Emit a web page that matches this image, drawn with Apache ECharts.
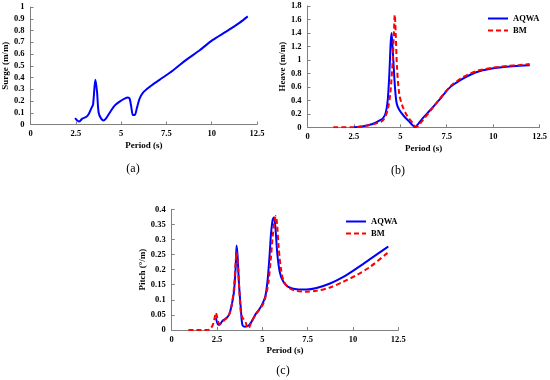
<!DOCTYPE html>
<html><head><meta charset="utf-8">
<script src="https://cdn.jsdelivr.net/npm/echarts@6/dist/echarts.min.js"></script>
<style>html,body{margin:0;padding:0;background:#fff}#c{width:550px;height:380px}</style>
</head><body><div id="c"></div>
<script>
// Surge (a)
var surgeX = [2.46,2.68,2.86,3.05,3.18,3.36,3.45,3.58,3.67,3.76,3.9,4.04,4.18,4.37,4.64,4.92,5.19,5.38,5.47,5.56,5.65,5.75,5.87,6.02,6.2,6.57,7.12,7.86,8.59,9.32,10.06,10.79,11.53,11.99];
var surgeY = [0.054,0.025,0.05,0.062,0.08,0.14,0.17,0.38,0.28,0.1,0.05,0.035,0.055,0.1,0.16,0.195,0.22,0.23,0.22,0.15,0.08,0.08,0.14,0.22,0.27,0.32,0.38,0.46,0.55,0.63,0.72,0.79,0.865,0.92];
// Heave (b)
var heaveAqwaX = [2.5,2.9,3.25,3.6,3.93,4.05,4.2,4.32,4.41,4.48,4.53,4.6,4.71,4.8,4.94,5.21,5.48,5.65,5.8,5.92,6.19,6.63,7.17,7.7,8.23,8.77,9.3,10.01,10.72,11.43,11.97];
var heaveAqwaY = [0,0.01,0.03,0.06,0.11,0.13,0.2,0.4,0.8,1.25,1.4,1.1,0.6,0.36,0.26,0.16,0.085,0.035,0.0,0.035,0.13,0.26,0.43,0.6,0.7,0.78,0.835,0.875,0.9,0.915,0.92];
var heaveBmX = [1.39,2.36,3.08,3.6,3.97,4.14,4.32,4.46,4.59,4.66,4.7,4.75,4.82,4.94,5.12,5.39,5.65,5.83,5.96,6.28,6.72,7.17,7.7,8.23,8.77,9.3,10.01,10.72,11.43,11.97];
var heaveBmY = [0,0,0.02,0.05,0.085,0.13,0.26,0.5,1.0,1.44,1.67,1.4,0.9,0.5,0.31,0.16,0.07,0.01,0.02,0.13,0.28,0.44,0.61,0.72,0.8,0.85,0.885,0.91,0.925,0.94];
// Pitch (c)
var pitchAqwaX = [2.44,2.57,2.67,2.81,3.03,3.18,3.31,3.44,3.53,3.58,3.64,3.71,3.82,3.9,4.04,4.23,4.41,4.6,4.87,5.06,5.18,5.29,5.39,5.48,5.57,5.64,5.72,5.83,5.97,6.16,6.43,6.89,7.44,7.99,8.73,9.47,10.2,10.94,11.86,11.95];
var pitchAqwaY = [0.04,0.017,0.019,0.031,0.04,0.053,0.083,0.13,0.21,0.28,0.24,0.155,0.066,0.017,0.011,0.014,0.028,0.05,0.072,0.094,0.116,0.165,0.24,0.32,0.366,0.373,0.34,0.25,0.19,0.16,0.143,0.135,0.134,0.139,0.154,0.176,0.204,0.235,0.273,0.276];
var pitchBmX = [0.92,1.38,1.9,2.11,2.3,2.44,2.54,2.63,2.76,2.94,3.16,3.31,3.44,3.53,3.58,3.64,3.73,3.82,3.92,4.0,4.1,4.19,4.28,4.41,4.69,5.06,5.2,5.33,5.46,5.57,5.66,5.74,5.81,5.9,6.01,6.16,6.43,6.89,7.44,7.99,8.73,9.47,10.2,10.94,11.86,11.95];
var pitchBmY = [0,0,0,0.002,0.022,0.057,0.033,0.02,0.024,0.035,0.05,0.083,0.143,0.226,0.259,0.231,0.132,0.055,0.039,0.033,0.022,0.006,0.009,0.028,0.055,0.088,0.116,0.154,0.231,0.309,0.358,0.378,0.353,0.275,0.21,0.165,0.141,0.129,0.127,0.13,0.141,0.16,0.182,0.209,0.253,0.256];
var xTicks = [0,2.5,5,7.5,10,12.5];
var captions = ['(a)','(b)','(c)'];
var yNames = ['Surge (m/m)','Heave (m/m)','Pitch (\u00b0/m)'];
var xName = 'Period (s)';
var seriesNames = ['AQWA','BM'];

function pairs(xs, ys){ return xs.map(function(x,i){return [x, ys[i]];}); }

var F = '"Liberation Serif","Times New Roman",serif';
var lab = {color:'#000', fontFamily:F, fontWeight:'bold', fontSize:8.5};
var axLine = {show:true, lineStyle:{color:'#808080', width:1}};
var axTick = {show:true, inside:true, length:3, lineStyle:{color:'#808080'}};

function xAx(i){
  return {type:'value', gridIndex:i, min:xTicks[0], max:xTicks[xTicks.length-1], interval:2.5,
    axisLine:axLine, axisTick:axTick, splitLine:{show:false},
    axisLabel:Object.assign({margin:5}, lab),
    name:xName, nameLocation:'middle', nameGap:16.5, nameTextStyle:Object.assign({}, lab, {fontSize:9})};
}
function yAx(i, max, iv){
  return {type:'value', gridIndex:i, min:0, max:max, interval:iv,
    axisLine:axLine, axisTick:axTick, splitLine:{show:false},
    axisLabel:Object.assign({margin:6}, lab),
    name:yNames[i], nameLocation:'middle', nameGap:(i===2?19:17.5), nameTextStyle:Object.assign({}, lab, {fontSize:9})};
}
var blue = {color:'#0000FF', width:2};
var red = {color:'#FF0000', width:2, type:[5,3]};
function ser(name, i, data, ls){
  return {name:name, type:'line', xAxisIndex:i, yAxisIndex:i, data:data, showSymbol:false, symbol:'none',
    smooth:0.3, lineStyle:ls, itemStyle:{color:ls.color}, animation:false};
}
function leg(name, left, top){
  return {data:[{name:name}], left:left, top:top, itemWidth:20, itemHeight:10,
    itemStyle:{opacity:0}, textStyle:lab, selectedMode:false};
}
var capStyle = {fontFamily:F, fontWeight:'normal', fontSize:12, color:'#000'};
var chart = echarts.init(document.getElementById('c'), null, {renderer:'canvas'});
chart.setOption({
  animation:false,
  backgroundColor:'#fff',
  grid:[
    {left:30, top:7, width:227, height:117.5},
    {left:307.5, top:6, width:234, height:121.3},
    {left:171.7, top:209.3, width:226.6, height:120.7}
  ],
  xAxis:[xAx(0), xAx(1), xAx(2)],
  yAxis:[yAx(0,1,0.1), yAx(1,1.8,0.2), yAx(2,0.4,0.05)],
  title:[
    {text:captions[0], left:133, top:163, textAlign:'center', padding:0, textStyle:capStyle},
    {text:captions[1], left:398, top:165, textAlign:'center', padding:0, textStyle:capStyle},
    {text:captions[2], left:283, top:365, textAlign:'center', padding:0, textStyle:capStyle}
  ],
  legend:[
    leg(seriesNames[0], 482, 9),
    leg(seriesNames[1], 482, 21),
    leg(seriesNames[0]+' ', 340, 212),
    leg(seriesNames[1]+' ', 340, 224)
  ],
  series:[
    ser('surge', 0, pairs(surgeX, surgeY), blue),
    ser(seriesNames[0], 1, pairs(heaveAqwaX, heaveAqwaY), blue),
    ser(seriesNames[1], 1, pairs(heaveBmX, heaveBmY), red),
    ser(seriesNames[0]+' ', 2, pairs(pitchAqwaX, pitchAqwaY), blue),
    ser(seriesNames[1]+' ', 2, pairs(pitchBmX, pitchBmY), red)
  ]
});
</script></body></html>
